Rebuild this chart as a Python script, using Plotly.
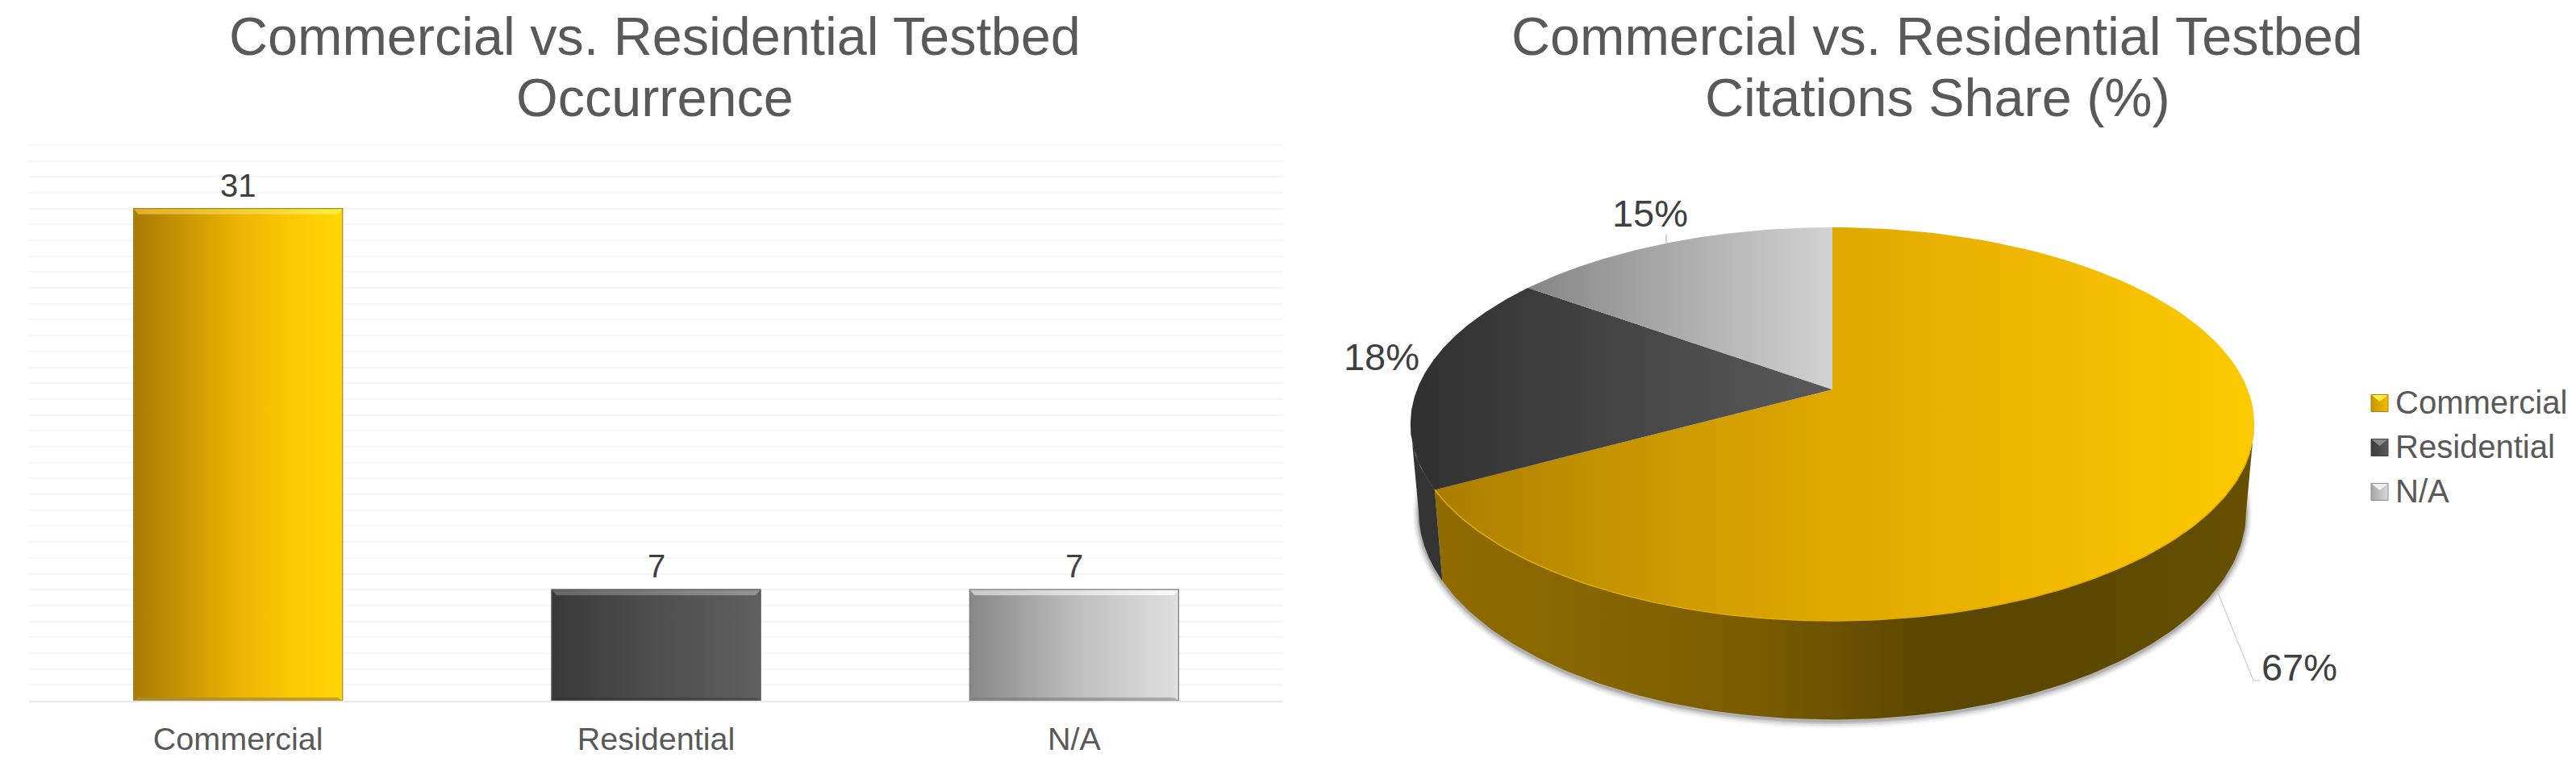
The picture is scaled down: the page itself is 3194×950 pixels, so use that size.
import numpy as np
import plotly.graph_objects as go

# ---- data ----
categories = ["Commercial", "Residential", "N/A"]
occurrence = [31, 7, 7]
citation_share = [67, 18, 15]
title_left = ["Commercial vs. Residential Testbed", "Occurrence"]
title_right = ["Commercial vs. Residential Testbed", "Citations Share (%)"]

# ---- styles ----
W, H = 3194, 950
FONT = "Liberation Sans"
TITLE_C = "#595959"
LABEL_C = "#404040"
bar_grad = [["#a87a04", "#c99700", "#efb305", "#fdc704", "#ffd705"],
            ["#383838", "#444444", "#4e4e4e", "#575757", "#606060"],
            ["#878787", "#a2a2a2", "#bdbdbd", "#cfcfcf", "#dedede"]]
bar_top = [["#e0ae2a", "#fff040"], ["#666666", "#949494"], ["#c8c8c8", "#fbfbfb"]]
bar_bot = [["#a88a30", "#c8a520"], ["#343434", "#505050"], ["#808080", "#b0b0b0"]]
bar_edge = ["#a88a20", "#555555", "#7c7c7c"]
bar_mean = ["#e8ad00", "#4c4c4c", "#b8b8b8"]
top_grad = [["#a67a00", "#c69500", "#e0a800", "#f0b800", "#fdca00"],
            ["#303030", "#5a5a5a"],
            ["#858585", "#d2d2d2"]]
wall_grad = ["#916d00", "#876500", "#7a5c00", "#5c4700", "#5c4800", "#675100"]
wall_dark = "#343434"
swatch_top = ["#fff040", "#8a8a8a", "#f0f0f0"]
swatch_body = [["#c69500", "#f5bd00"], ["#3c3c3c", "#5a5a5a"], ["#a6a6a6", "#d8d8d8"]]
swatch_edge = ["#a08010", "#404040", "#8a8a8a"]

# pie projection: disc -> picture, for the top face and for the bottom rim
CX, K = 2272, -0.176
TOP = dict(a=515, b=236.4, c=483)
BOT = dict(a=505, b=250, c=589)
SIDE_R, SIDE_L = 0.278, 0.722  # where the rim turns away from the viewer


def rim(frac0, frac1, g, n=120, grow=0.0):
    th = np.linspace(frac0, frac1, n) * 2 * np.pi
    x, y = np.sin(th), -np.cos(th)
    d = 1 + K * y
    return CX + (g["a"] + grow) * x / d, g["c"] + (g["b"] + grow) * y / d


def scale(cols):
    m = len(cols) - 1
    return [[i / m, c] for i, c in enumerate(cols)]


fig = go.Figure()
PA = dict(xaxis="x", yaxis="y")
PX = dict(xaxis="x2", yaxis="y2")


def poly(xs, ys, cols, axes, x0=None, x1=None, line=None, name=None):
    xs, ys = list(xs), list(ys)
    fig.add_trace(go.Scatter(
        x=xs + xs[:1], y=ys + ys[:1], mode="lines", fill="toself",
        fillgradient=dict(type="horizontal", colorscale=scale(cols),
                          start=min(xs) if x0 is None else x0,
                          stop=max(xs) if x1 is None else x1),
        line=line or dict(width=0), showlegend=False, hoverinfo="skip",
        name=name or "", **axes))


# ---- bar chart ----
fig.add_trace(go.Bar(
    x=list(range(len(categories))), y=occurrence, width=0.5,
    marker=dict(color=bar_mean, line=dict(width=0)),
    cliponaxis=False, showlegend=False, **PA))

PX_X = 1 / 518.3   # one picture pixel in x data units
PX_Y = 1 / 19.69   # one picture pixel in y data units
for i, v in enumerate(occurrence):
    l, r = i - 0.25, i + 0.25
    poly([l, r, r, l], [0, 0, v, v], bar_grad[i], PA, l, r)
    dx, dt, db = 6 * PX_X, 7 * PX_Y, 4 * PX_Y
    # bevel: top, bottom
    poly([l, r, r - dx, l + dx], [v, v, v - dt, v - dt], bar_top[i], PA, l, r)
    poly([l, r, r - dx, l + dx], [0, 0, db, db], bar_bot[i], PA, l, r)
    # outline
    fig.add_trace(go.Scatter(x=[l, l, r, r, l], y=[0, v, v, 0, 0], mode="lines",
                             line=dict(color=bar_edge[i], width=1.2),
                             showlegend=False, hoverinfo="skip", **PA))

# ---- 3-D look pie ----
edges = np.cumsum([0] + citation_share) / sum(citation_share)

# soft shadow under the rim
for grow, alpha in [(7, 0.05), (5, 0.07), (3, 0.10), (1.5, 0.12)]:
    sx, sy = rim(0.24, 0.76, BOT, grow=grow)
    fig.add_trace(go.Scatter(x=sx, y=sy + 2, mode="lines", fill="toself",
                             fillcolor=f"rgba(0,0,0,{alpha})", line=dict(width=0),
                             showlegend=False, hoverinfo="skip", **PX))

# side walls: dark slice first, then the big front slice
tx, ty = rim(edges[1], SIDE_L, TOP)
bx, by = rim(edges[1], SIDE_L, BOT)
fig.add_trace(go.Scatter(x=list(tx) + list(bx[::-1]), y=list(ty) + list(by[::-1]),
                         mode="lines", fill="toself", fillcolor=wall_dark,
                         line=dict(width=0), showlegend=False, hoverinfo="skip", **PX))
tx, ty = rim(SIDE_R, edges[1], TOP)
bx, by = rim(SIDE_R, edges[1], BOT)
poly(list(tx) + list(bx[::-1]), list(ty) + list(by[::-1]), wall_grad, PX, 1760, 2795)

# top faces
top_ranges = [(1750, 2795), (1750, 2272), (1889, 2272)]
for i in range(3):
    rx_, ry_ = rim(edges[i], edges[i + 1], TOP)
    poly([CX] + list(rx_), [TOP["c"]] + list(ry_), top_grad[i], PX,
         top_ranges[i][0], top_ranges[i][1], name=categories[i])
# gold rim along the visible front edge of the big slice
rx_, ry_ = rim(0.3, edges[1], TOP)
fig.add_trace(go.Scatter(x=rx_, y=ry_, mode="lines", line=dict(color="#e3ad00", width=1.5),
                         showlegend=False, hoverinfo="skip", **PX))

# leader lines and share labels
fig.add_trace(go.Scatter(x=[2066, 2066], y=[291, 302], mode="lines",
                         line=dict(color="#a6a6a6", width=1), showlegend=False,
                         hoverinfo="skip", **PX))
fig.add_trace(go.Scatter(x=[2750, 2794, 2803], y=[735, 844, 844], mode="lines",
                         line=dict(color="#bfbfbf", width=1), showlegend=False,
                         hoverinfo="skip", **PX))
fig.add_trace(go.Scatter(
    x=[2851, 1713, 2046], y=[832, 447, 269], mode="text",
    text=[f"{v}%" for v in citation_share], textposition="middle center",
    textfont=dict(family=FONT, size=47, color=LABEL_C),
    showlegend=False, hoverinfo="skip", **PX))

# legend swatches
for i, yc in enumerate([500, 555, 610]):
    s, a, b = 10.5, 2940, 2961
    poly([a, b, b, a], [yc - s, yc - s, yc + s, yc + s], swatch_body[i], PX, a, b)
    fig.add_trace(go.Scatter(x=[a, b, a + 10.5, a], y=[yc - s, yc - s, yc - 2, yc - s],
                             mode="lines", fill="toself", fillcolor=swatch_top[i],
                             line=dict(width=0), showlegend=False, hoverinfo="skip", **PX))
    fig.add_trace(go.Scatter(x=[a, b, b, a, a], y=[yc - s, yc - s, yc + s, yc + s, yc - s],
                             mode="lines", line=dict(color=swatch_edge[i], width=1),
                             showlegend=False, hoverinfo="skip", **PX))
for name in categories:
    fig.add_trace(go.Scatter(x=[None], y=[None], mode="markers", name=name,
                             marker=dict(symbol="square", size=16, color="rgba(0,0,0,0)"),
                             hoverinfo="skip", **PX))

# titles and bar value labels
annos = []
for cx, lines in [(812, title_left), (2402, title_right)]:
    for yc, line in zip([45, 121], lines):
        annos.append(dict(x=cx, y=yc, xref="x2", yref="y2", text=line, showarrow=False,
                          xanchor="center", yanchor="middle",
                          font=dict(family=FONT, size=66.5, color=TITLE_C)))
for i, v in enumerate(occurrence):
    annos.append(dict(x=i, y=v, xref="x", yref="y", text=str(v), showarrow=False,
                      xanchor="center", yanchor="middle", yshift=29,
                      font=dict(family=FONT, size=40, color=LABEL_C)))

fig.update_layout(
    width=W, height=H, margin=dict(l=0, r=0, t=0, b=0, autoexpand=False),
    paper_bgcolor="white", plot_bgcolor="rgba(0,0,0,0)", annotations=annos, bargap=0.5,
    xaxis=dict(domain=[36 / W, 1591 / W], range=[-0.5, 2.5], tickvals=[0, 1, 2],
               ticktext=categories, tickfont=dict(family=FONT, size=39.5, color=TITLE_C),
               ticks="", showgrid=False, zeroline=False, showline=True,
               linecolor="#e8e8e8", linewidth=2, anchor="y", ticklabelstandoff=12),
    yaxis=dict(domain=[(H - 869) / H, (H - 175) / H], range=[0, 35.25], dtick=1,
               showticklabels=False, ticks="", gridcolor="#f6f6f6", gridwidth=2,
               zeroline=False, showline=False, anchor="x"),
    xaxis2=dict(domain=[0, 1], range=[0, W], visible=False, anchor="y2"),
    yaxis2=dict(domain=[0, 1], range=[H, 0], visible=False, anchor="x2"),
    legend=dict(x=2930 / W, y=1 - 465 / H, xanchor="left", yanchor="top",
                bgcolor="rgba(0,0,0,0)", borderwidth=0, itemwidth=30,
                font=dict(family=FONT, size=40, color=TITLE_C), tracegroupgap=0),
)
fig.write_html("out.html", config=dict(displayModeBar=False),
               post_script="document.body.style.margin='0';")
